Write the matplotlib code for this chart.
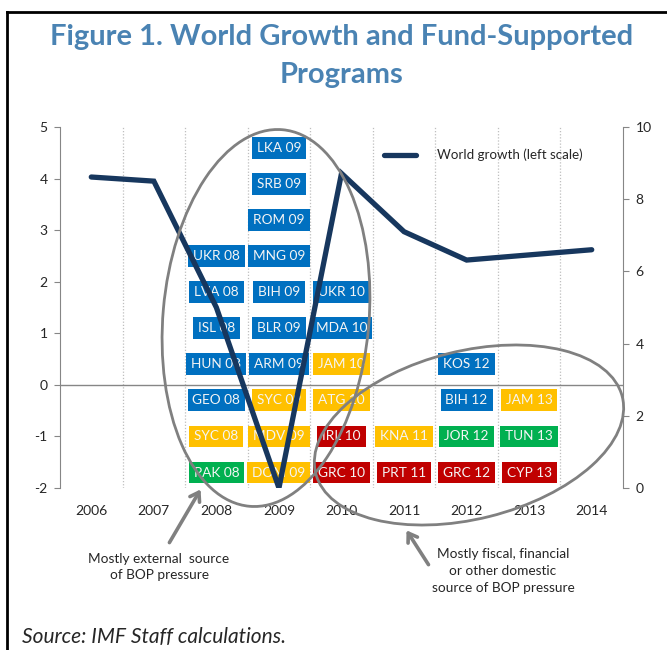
import matplotlib
matplotlib.use("Agg")
import matplotlib.pyplot as plt
from matplotlib.patches import Ellipse, FancyArrowPatch
from matplotlib.lines import Line2D

# ---------------- data ----------------
years = ["2006", "2007", "2008", "2009", "2010", "2011", "2012", "2013", "2014"]
world_growth = [4.03, 3.95, 1.5, -2.0, 4.1, 2.97, 2.42, 2.52, 2.62]

# programs per year, listed bottom to top
programs = [
    [],
    [],
    ["PAK 08", "SYC 08", "GEO 08", "HUN 08", "ISL 08", "LVA 08", "UKR 08"],
    ["DOM 09", "MDV 09", "SYC 09", "ARM 09", "BLR 09", "BIH 09", "MNG 09", "ROM 09", "SRB 09", "LKA 09"],
    ["GRC 10", "IRL 10", "ATG 10", "JAM 10", "MDA 10", "UKR 10"],
    ["PRT 11", "KNA 11"],
    ["GRC 12", "JOR 12", "BIH 12", "KOS 12"],
    ["CYP 13", "TUN 13", "JAM 13"],
    [],
]
# program type codes: B=blue, Y=yellow, R=red, G=green
program_types = [
    [],
    [],
    ["G", "Y", "B", "B", "B", "B", "B"],
    ["Y", "Y", "Y", "B", "B", "B", "B", "B", "B", "B"],
    ["R", "R", "Y", "Y", "B", "B"],
    ["R", "Y"],
    ["R", "G", "B", "B"],
    ["R", "G", "Y"],
    [],
]
left_ticks = [-2, -1, 0, 1, 2, 3, 4, 5]
right_ticks = [0, 2, 4, 6, 8, 10]

# ---------------- style ----------------
type_colors = {"B": "#0070C0", "Y": "#FFC000", "R": "#C00000", "G": "#00B050"}
line_color = "#17375E"
grey = "#808080"
title_color = "#4A83B3"
text_color = "#262626"
plt.rcParams["font.family"] = ["Lato", "DejaVu Sans"]

W, H = 667, 650
fig = plt.figure(figsize=(W / 100, H / 100), dpi=100)

def fx(px):
    return px / W

def fy(py):
    return 1 - py / H

ax_l, ax_r, ax_t, ax_b = 60, 623, 127, 488
ax = fig.add_axes([fx(ax_l), fy(ax_b), fx(ax_r - ax_l), (ax_b - ax_t) / H])
ax2 = ax.twinx()

x = list(range(len(years)))
ax.set_xlim(-0.5, len(years) - 0.5)
ax.set_ylim(-2, 5)
ax2.set_ylim(0, 10)

# gridlines at category boundaries
for b in range(1, len(years)):
    ax.axvline(b - 0.5, color="#BFBFBF", lw=0.9, ls=(0, (1, 1.5)), zorder=0)
ax.axhline(0, color="#868686", lw=1.0, zorder=1)

# program boxes
row0, step = -1.7, 0.7
for i, (labs, types) in enumerate(zip(programs, program_types)):
    for k, (lab, t) in enumerate(zip(labs, types)):
        ax.text(x[i], row0 + k * step, lab, ha="center", va="center",
                color="#F5F5F5", fontsize=9.8, zorder=3,
                bbox=dict(boxstyle="square,pad=0.36", fc=type_colors[t], ec="none"))

# world growth line
ln, = ax.plot(x, world_growth, color=line_color, lw=3.8, solid_capstyle="round",
              solid_joinstyle="miter", zorder=4, label="World growth (left scale)")

# axes styling
for a in (ax, ax2):
    for s in ("top", "bottom"):
        a.spines[s].set_visible(False)
ax.spines["right"].set_visible(False)
ax.spines["left"].set_color("#868686")
ax2.spines["left"].set_visible(False)
ax2.spines["right"].set_color("#868686")
ax.set_yticks(left_ticks)
ax.set_yticklabels([str(v) for v in left_ticks])
ax2.set_yticks(right_ticks)
ax2.set_yticklabels([str(v) for v in right_ticks])
ax.tick_params(axis="y", length=4, color="#868686", labelsize=10, labelcolor=text_color, pad=5)
ax2.tick_params(axis="y", length=4, color="#868686", labelsize=10, labelcolor=text_color, pad=5)
ax.set_xticks(x)
ax.set_xticklabels(years)
ax.tick_params(axis="x", length=0, labelsize=10, labelcolor=text_color, pad=12)
ax.set_zorder(ax2.get_zorder() + 1)
ax.patch.set_visible(False)

leg = ax.legend(handles=[ln], loc="upper left", bbox_to_anchor=(0.575, 0.94),
                frameon=False, fontsize=9.6, handlelength=2.4, handletextpad=1.6,
                borderpad=0, borderaxespad=0)
for t in leg.get_texts():
    t.set_color(text_color)

# title
fig.text(fx(342), fy(37), "Figure 1. World Growth and Fund-Supported", ha="center", va="center",
         fontsize=21, fontweight="bold", color=title_color)
fig.text(fx(342), fy(75), "Programs", ha="center", va="center",
         fontsize=21, fontweight="bold", color=title_color)

# ellipses (pixel-based, y-up inches)
tr = fig.dpi_scale_trans
e1 = Ellipse((266 / 100, (H - 318) / 100), 3.78, 2.06, angle=85, transform=tr,
             fill=False, ec=grey, lw=2.0, zorder=5)
e2 = Ellipse((469 / 100, (H - 435) / 100), 3.16, 1.68, angle=14, transform=tr,
             fill=False, ec=grey, lw=2.0, zorder=5)
fig.add_artist(e1)
fig.add_artist(e2)

# arrows
a1 = FancyArrowPatch((168 / 100, (H - 545) / 100), (202 / 100, (H - 487) / 100), transform=tr,
                     arrowstyle="->,head_length=6,head_width=4", color=grey, lw=2.6, zorder=5)
a2 = FancyArrowPatch((430 / 100, (H - 567) / 100), (405 / 100, (H - 528) / 100), transform=tr,
                     arrowstyle="->,head_length=6,head_width=4", color=grey, lw=2.6, zorder=5)
fig.add_artist(a1)
fig.add_artist(a2)

fig.text(fx(159), fy(567), "Mostly external  source\nof BOP pressure", ha="center", va="center",
         fontsize=9.8, color=text_color, linespacing=1.45)
fig.text(fx(503), fy(571), "Mostly fiscal, financial\nor other domestic\nsource of BOP pressure",
         ha="center", va="center", fontsize=9.8, color=text_color, linespacing=1.45)

fig.text(fx(22), fy(637), "Source: IMF Staff calculations.", ha="left", va="center",
         fontsize=15, style="italic", color=text_color)

# frame lines (left and top)
fig.add_artist(Line2D([fx(7), fx(7)], [0, fy(12)], color="black", lw=2))
fig.add_artist(Line2D([fx(7), 1], [fy(12), fy(12)], color="black", lw=2))

fig.savefig("out.png", dpi=100)
